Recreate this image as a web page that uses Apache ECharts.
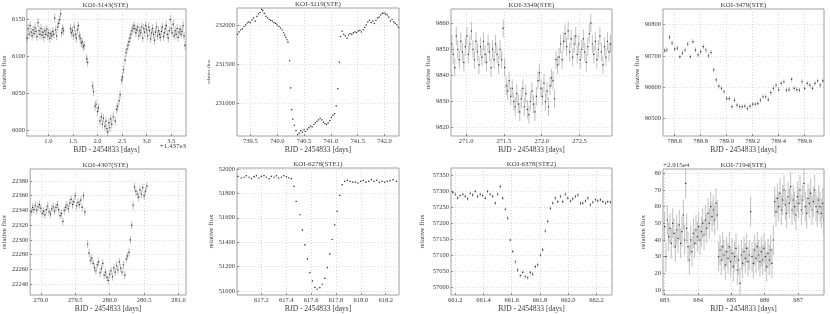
<!DOCTYPE html>
<html><head><meta charset="utf-8">
<script src="https://cdn.jsdelivr.net/npm/echarts@6/dist/echarts.min.js"></script>
<style>html,body{margin:0;padding:0;background:#fff}#c{width:830px;height:314px}</style>
</head><body><div id="c"></div>
<script>
// ---------- DATA ----------
const titles = ['KOI-3143(STE)','KOI-3219(STE)','KOI-3349(STE)','KOI-3479(STE)','KOI-4307(STE)','KOI-6278(STE1)','KOI-6378(STE2)','KOI-7194(STE)'];
const xAxisName = 'BJD - 2454833 [days]';
const yAxisName = 'relative flux';
const xOffsetText1 = '+1.437e3';
const yOffsetText8 = '+2.915e4';

const koi3143 = [[0.57,6125],[0.59,6138],[0.61,6130],[0.63,6142],[0.65,6133],[0.67,6128],[0.69,6136],[0.71,6131],[0.73,6139],[0.75,6134],[0.77,6127],[0.79,6146],[0.81,6135],[0.83,6130],[0.85,6138],[0.87,6129],[0.89,6133],[0.91,6126],[0.93,6135],[0.95,6130],[0.97,6137],[0.99,6128],[1.01,6132],[1.03,6125],[1.05,6131],[1.07,6128],[1.09,6134],[1.11,6130],[1.13,6152],[1.15,6136],[1.17,6128],[1.19,6140],[1.21,6145],[1.23,6150],[1.25,6158],[1.27,6132],[1.29,6138],[1.31,6135],[1.45,6138],[1.47,6132],[1.49,6135],[1.51,6128],[1.53,6140],[1.55,6130],[1.57,6125],[1.59,6136],[1.61,6142],[1.63,6128],[1.65,6125],[1.67,6118],[1.69,6120],[1.71,6113],[1.73,6115],[1.78,6097],[1.80,6092],[1.90,6060],[1.92,6052],[1.95,6032],[1.97,6035],[2.00,6025],[2.02,6030],[2.05,6012],[2.08,6018],[2.10,6008],[2.12,6016],[2.15,6005],[2.17,6012],[2.19,6002],[2.21,5997],[2.23,6010],[2.25,6003],[2.27,6015],[2.29,6008],[2.32,6018],[2.36,6012],[2.39,6028],[2.41,6032],[2.44,6040],[2.46,6048],[2.49,6068],[2.51,6072],[2.53,6082],[2.56,6095],[2.58,6105],[2.60,6110],[2.62,6115],[2.64,6120],[2.66,6125],[2.68,6130],[2.70,6135],[2.72,6138],[2.74,6142],[2.76,6138],[2.78,6132],[2.80,6136],[2.82,6140],[2.84,6128],[2.86,6135],[2.88,6132],[2.90,6140],[2.92,6125],[2.94,6138],[2.96,6133],[2.98,6142],[3.00,6136],[3.02,6128],[3.04,6140],[3.06,6135],[3.08,6124],[3.10,6132],[3.12,6138],[3.14,6130],[3.16,6122],[3.18,6133],[3.20,6140],[3.22,6128],[3.24,6135],[3.26,6130],[3.28,6126],[3.30,6134],[3.32,6140],[3.34,6127],[3.36,6132],[3.38,6138],[3.40,6142],[3.42,6130],[3.44,6125],[3.46,6135],[3.48,6150],[3.50,6138],[3.52,6132],[3.54,6144],[3.56,6128],[3.58,6135],[3.60,6130],[3.62,6138],[3.64,6126],[3.66,6133],[3.68,6137],[3.70,6130],[3.72,6134],[3.74,6142],[3.76,6128],[3.78,6115]];

const koi3219 = [[739.26,231890],[739.29,231920],[739.32,231945],[739.35,231960],[739.38,231990],[739.41,232010],[739.44,232035],[739.47,232050],[739.50,232040],[739.53,232075],[739.56,232100],[739.59,232060],[739.62,232120],[739.65,232150],[739.68,232170],[739.71,232210],[739.73,232195],[739.76,232160],[739.79,232120],[739.82,232100],[739.85,232080],[739.88,232070],[739.91,232060],[739.94,232040],[739.97,232030],[740.00,232010],[740.03,231990],[740.06,231970],[740.09,231945],[740.12,231910],[740.14,231880],[740.16,231850],[740.18,231820],[740.20,231790],[740.23,231550],[740.25,231200],[740.27,230920],[740.29,230800],[740.32,230720],[740.35,230650],[740.38,230600],[740.41,230620],[740.44,230650],[740.47,230630],[740.50,230660],[740.53,230640],[740.56,230670],[740.59,230690],[740.62,230710],[740.65,230700],[740.68,230730],[740.71,230750],[740.74,230770],[740.77,230790],[740.80,230810],[740.83,230790],[740.86,230760],[740.89,230740],[740.92,230730],[740.95,230750],[740.98,230780],[741.01,230820],[741.04,230850],[741.07,230870],[741.10,230970],[741.13,231190],[741.16,231530],[741.18,231860],[741.21,231930],[741.24,231890],[741.27,231870],[741.30,231840],[741.33,231880],[741.36,231900],[741.39,231890],[741.42,231910],[741.45,231920],[741.48,231910],[741.51,231930],[741.54,231940],[741.57,231920],[741.60,231950],[741.63,231980],[741.66,232010],[741.69,232050],[741.72,232070],[741.75,232040],[741.78,232060],[741.81,232030],[741.84,232070],[741.87,232100],[741.90,232110],[741.93,232140],[741.96,232160],[741.99,232165],[742.02,232150],[742.05,232140],[742.08,232110],[742.11,232060],[742.14,232080],[742.17,232050],[742.20,232030],[742.23,232010],[742.26,231980]];

const koi3349 = [[270.81,9852],[270.83,9848],[270.85,9843],[270.87,9855],[270.89,9850],[270.91,9846],[270.93,9853],[270.95,9849],[270.97,9845],[270.99,9851],[271.01,9855],[271.03,9848],[271.05,9852],[271.07,9857],[271.09,9850],[271.11,9846],[271.13,9853],[271.15,9849],[271.17,9844],[271.19,9851],[271.21,9847],[271.23,9853],[271.25,9848],[271.27,9845],[271.29,9852],[271.31,9849],[271.33,9843],[271.35,9850],[271.37,9846],[271.39,9852],[271.41,9848],[271.43,9844],[271.45,9850],[271.47,9846],[271.49,9858],[271.51,9843],[271.53,9836],[271.55,9834],[271.57,9838],[271.59,9832],[271.61,9835],[271.63,9830],[271.65,9828],[271.67,9833],[271.69,9829],[271.71,9826],[271.73,9831],[271.75,9835],[271.77,9828],[271.79,9833],[271.81,9827],[271.83,9825],[271.85,9830],[271.87,9834],[271.89,9829],[271.91,9826],[271.93,9832],[271.95,9838],[271.97,9841],[271.99,9835],[272.01,9832],[272.03,9837],[272.05,9830],[272.07,9834],[272.09,9828],[272.11,9836],[272.13,9839],[272.15,9838],[272.17,9831],[272.19,9846],[272.21,9844],[272.23,9847],[272.25,9852],[272.27,9846],[272.29,9853],[272.31,9856],[272.33,9851],[272.35,9857],[272.37,9849],[272.39,9854],[272.41,9847],[272.43,9852],[272.45,9855],[272.47,9848],[272.49,9852],[272.51,9846],[272.53,9850],[272.55,9854],[272.57,9849],[272.59,9845],[272.61,9851],[272.63,9856],[272.65,9860],[272.67,9852],[272.69,9848],[272.71,9853],[272.73,9846],[272.75,9850],[272.77,9855],[272.79,9849],[272.81,9844],[272.83,9851],[272.85,9847],[272.87,9853],[272.89,9849],[272.91,9852]];

const koi3479 = [[788.523,90717],[788.54,90719],[788.56,90760],[788.58,90741],[788.60,90722],[788.62,90725],[788.64,90698],[788.66,90709],[788.68,90719],[788.70,90738],[788.72,90698],[788.74,90746],[788.76,90719],[788.78,90703],[788.80,90714],[788.82,90730],[788.84,90719],[788.86,90700],[788.88,90711],[788.90,90655],[788.92,90623],[788.94,90603],[788.96,90596],[788.98,90585],[789.00,90563],[789.02,90563],[789.04,90537],[789.06,90558],[789.08,90542],[789.10,90537],[789.12,90537],[789.14,90539],[789.16,90531],[789.18,90539],[789.20,90545],[789.22,90545],[789.24,90547],[789.26,90558],[789.28,90569],[789.30,90569],[789.32,90560],[789.34,90582],[789.36,90596],[789.38,90606],[789.40,90592],[789.42,90612],[789.44,90617],[789.46,90590],[789.48,90592],[789.50,90625],[789.52,90596],[789.54,90592],[789.56,90590],[789.58,90617],[789.60,90596],[789.62,90612],[789.64,90606],[789.66,90596],[789.68,90612],[789.70,90620],[789.72,90606],[789.74,90620]];

const koi4307 = [[278.86,22338],[278.88,22344],[278.90,22341],[278.92,22347],[278.94,22340],[278.96,22345],[278.98,22348],[279.00,22343],[279.02,22336],[279.04,22339],[279.06,22334],[279.08,22341],[279.10,22346],[279.12,22338],[279.14,22335],[279.16,22342],[279.18,22345],[279.20,22339],[279.22,22344],[279.24,22348],[279.26,22341],[279.28,22333],[279.30,22336],[279.32,22325],[279.34,22340],[279.36,22344],[279.38,22347],[279.40,22342],[279.42,22350],[279.44,22355],[279.46,22348],[279.48,22352],[279.50,22360],[279.52,22346],[279.54,22351],[279.56,22348],[279.58,22354],[279.60,22344],[279.62,22360],[279.64,22338],[279.68,22294],[279.70,22282],[279.72,22272],[279.74,22275],[279.76,22268],[279.78,22262],[279.80,22258],[279.82,22266],[279.84,22270],[279.86,22255],[279.88,22261],[279.90,22268],[279.92,22252],[279.94,22256],[279.96,22249],[279.98,22245],[280.00,22253],[280.02,22258],[280.04,22250],[280.06,22262],[280.08,22256],[280.10,22265],[280.12,22259],[280.14,22270],[280.16,22262],[280.18,22256],[280.20,22266],[280.22,22252],[280.24,22274],[280.26,22278],[280.28,22283],[280.30,22300],[280.32,22320],[280.34,22347],[280.36,22372],[280.38,22366],[280.40,22362],[280.42,22358],[280.44,22368],[280.46,22362],[280.48,22371],[280.50,22360],[280.52,22366],[280.54,22373]];

const koi6278 = [[617.012,51940],[617.039,51926],[617.061,51932],[617.079,51945],[617.101,51932],[617.12,51921],[617.141,51937],[617.16,51945],[617.181,51926],[617.2,51940],[617.221,51945],[617.24,51932],[617.262,51921],[617.28,51940],[617.302,51932],[617.321,51945],[617.339,51926],[617.361,51932],[617.38,51945],[617.401,51937],[617.42,51926],[617.441,51921],[617.463,51858],[617.48,51734],[617.51,51625],[617.53,51501],[617.55,51378],[617.57,51263],[617.59,51151],[617.61,51082],[617.63,51030],[617.65,51014],[617.67,51027],[617.69,51055],[617.71,51104],[617.73,51192],[617.75,51304],[617.77,51422],[617.79,51542],[617.81,51652],[617.83,51784],[617.85,51871],[617.87,51899],[617.892,51907],[617.913,51899],[617.935,51893],[617.956,51893],[617.977,51885],[617.999,51899],[618.02,51907],[618.042,51893],[618.063,51899],[618.085,51912],[618.106,51899],[618.128,51907],[618.149,51890],[618.171,51899],[618.192,51893],[618.213,51899],[618.235,51904],[618.259,51912],[618.286,51899]];

const koi6378 = [[661.183,57298],[661.2,57292],[661.217,57280],[661.235,57288],[661.254,57292],[661.271,57285],[661.287,57278],[661.306,57295],[661.323,57290],[661.342,57301],[661.358,57285],[661.377,57292],[661.394,57288],[661.413,57280],[661.429,57301],[661.448,57292],[661.465,57285],[661.484,57264],[661.5,57292],[661.519,57316],[661.536,57280],[661.555,57245],[661.571,57217],[661.59,57149],[661.607,57113],[661.626,57081],[661.642,57055],[661.661,57038],[661.678,57048],[661.696,57034],[661.713,57031],[661.732,57048],[661.748,57042],[661.767,57066],[661.784,57071],[661.803,57102],[661.819,57118],[661.838,57177],[661.855,57207],[661.874,57248],[661.89,57264],[661.909,57280],[661.926,57269],[661.945,57285],[661.961,57269],[661.98,57292],[661.997,57280],[662.016,57271],[662.032,57278],[662.051,57285],[662.068,57290],[662.087,57264],[662.103,57264],[662.122,57271],[662.139,57280],[662.157,57259],[662.174,57267],[662.193,57275],[662.209,57271],[662.228,57275],[662.245,57269],[662.264,57264],[662.28,57269],[662.299,57267]];

const koi7194 = [[683.00,48],[683.04,30],[683.08,52],[683.12,42],[683.16,47],[683.20,38],[683.24,50],[683.28,44],[683.32,36],[683.36,46],[683.40,41],[683.44,49],[683.48,38],[683.52,45],[683.56,55],[683.60,40],[683.63,74],[683.66,47],[683.70,36],[683.74,28],[683.78,40],[683.82,33],[683.86,44],[683.90,38],[683.94,46],[683.98,42],[684.02,48],[684.06,40],[684.10,45],[684.14,50],[684.18,43],[684.22,52],[684.26,47],[684.30,56],[684.34,50],[684.38,60],[684.42,54],[684.46,58],[684.50,52],[684.54,62],[684.58,55],[684.62,30],[684.66,34],[684.70,28],[684.74,36],[684.78,31],[684.82,25],[684.86,33],[684.90,29],[684.94,36],[684.98,27],[685.02,32],[685.06,24],[685.10,30],[685.14,35],[685.18,22],[685.22,28],[685.26,14],[685.30,31],[685.34,26],[685.38,33],[685.42,29],[685.46,35],[685.50,27],[685.54,31],[685.58,57],[685.62,30],[685.66,26],[685.70,34],[685.74,29],[685.78,36],[685.82,31],[685.86,27],[685.90,33],[685.94,28],[685.98,35],[686.02,30],[686.06,24],[686.10,32],[686.14,28],[686.18,34],[686.22,26],[686.26,40],[686.30,63],[686.34,57],[686.38,65],[686.42,60],[686.46,68],[686.50,58],[686.54,64],[686.58,70],[686.62,61],[686.66,56],[686.70,66],[686.74,62],[686.78,72],[686.82,58],[686.86,64],[686.90,60],[686.94,55],[686.98,66],[687.02,62],[687.06,70],[687.10,58],[687.14,64],[687.18,74],[687.22,60],[687.26,56],[687.30,65],[687.34,62],[687.38,68],[687.42,58],[687.46,63],[687.50,70],[687.54,60],[687.58,57],[687.62,64],[687.66,60],[687.70,56],[687.74,62],[687.78,52]];

const seriesData = [koi3143, koi3219, koi3349, koi3479, koi4307, koi6278, koi6378, koi7194];
const errors = [6, 6, 3.5, 8, 5.5, 5, 6, 9];

const xTicks = [
  [1.0,1.5,2.0,2.5,3.0,3.5],
  [739.5,740.0,740.5,741.0,741.5,742.0],
  [271.0,271.5,272.0,272.5],
  [788.6,788.8,789.0,789.2,789.4,789.6],
  [279.0,279.5,280.0,280.5,281.0],
  [617.2,617.4,617.6,617.8,618.0,618.2],
  [661.2,661.4,661.6,661.8,662.0,662.2],
  [683,684,685,686,687]
];
const yTicks = [
  [6000,6050,6100,6150],
  [231000,231500,232000],
  [9820,9830,9840,9850,9860],
  [90500,90600,90700,90800],
  [22240,22260,22280,22300,22320,22340,22360,22380],
  [51000,51200,51400,51600,51800,52000],
  [57000,57050,57100,57150,57200,57250,57300,57350],
  [10,20,30,40,50,60,70,80]
];
const xRanges = [[0.564,3.80],[739.25,742.27],[270.80,272.93],[788.51,789.749],[278.845,281.108],[617.004,618.307],[661.17,662.31],[682.95,687.78]];
const yRanges = [[5991.8,6164.5],[230582,232228],[9816.8,9865.4],[90443,90850.5],[22225,22396.3],[50967,52008],[56977,57374],[7,82.6]];
const xDecimals = [1,1,1,1,1,1,1,0];

// ---------- LAYOUT ----------
const layout = [
  {l:25, t:9, w:161, h:127, yGap:18, yFs:7},
  {l:237, t:8, w:162, h:128, yGap:25, yFs:5},
  {l:451, t:9, w:161, h:127, yGap:18, yFs:7},
  {l:663, t:9, w:161, h:127, yGap:22, yFs:7},
  {l:25, t:169, w:161, h:126, yGap:18, yFs:7},
  {l:237, t:168, w:162, h:127, yGap:20, yFs:7},
  {l:451, t:168, w:161, h:127, yGap:25, yFs:7},
  {l:663, t:169, w:161, h:126, yGap:16, yFs:7}
];
const FONT = 'Liberation Serif';
const TXT = '#3a3a3a';

const grids = [], xAxes = [], yAxes = [], series = [], graphics = [];
layout.forEach((L, i) => {
  grids.push({left:L.l, top:L.t, width:L.w, height:L.h, show:true, borderColor:'#a0a0a0', borderWidth:1, backgroundColor:'#fff', containLabel:false});
  xAxes.push({
    type:'value', gridIndex:i, min:xRanges[i][0], max:xRanges[i][1],
    name:xAxisName, nameLocation:'middle', nameGap:10,
    nameTextStyle:{fontFamily:FONT, fontSize:7.5, color:TXT},
    axisLine:{show:false},
    axisTick:{show:true, inside:true, length:2, customValues:xTicks[i], lineStyle:{color:'#888'}},
    axisLabel:{customValues:xTicks[i], margin:2, fontFamily:FONT, fontSize:6.5, color:TXT,
      formatter: v => Number(v).toFixed(xDecimals[i])},
    splitLine:{show:true, lineStyle:{color:'#dadada', type:[1,2], width:1}}
  });
  yAxes.push({
    type:'value', gridIndex:i, min:yRanges[i][0], max:yRanges[i][1],
    name:yAxisName, nameLocation:'middle', nameGap:L.yGap,
    nameTextStyle:{fontFamily:FONT, fontSize:L.yFs, color:TXT},
    axisLine:{show:false},
    axisTick:{show:true, inside:true, length:2, customValues:yTicks[i], lineStyle:{color:'#888'}},
    axisLabel:{customValues:yTicks[i], margin:2, fontFamily:FONT, fontSize:6.5, color:TXT,
      formatter: v => String(Math.round(v))},
    splitLine:{show:true, lineStyle:{color:'#dadada', type:[1,2], width:1}}
  });
  const err = errors[i];
  series.push({
    type:'custom', xAxisIndex:i, yAxisIndex:i, clip:true,
    data: seriesData[i].map(p => [p[0], p[1], err]),
    renderItem: (params, api) => {
      const x = api.value(0), y = api.value(1), e = api.value(2);
      const a = api.coord([x, y + e]), b = api.coord([x, y - e]), c = api.coord([x, y]);
      return {type:'group', children:[
        {type:'line', shape:{x1:a[0], y1:a[1], x2:b[0], y2:b[1]}, style:{stroke:'rgba(130,130,130,0.5)', lineWidth:1}},
        {type:'rect', shape:{x:c[0]-0.6, y:c[1]-0.6, width:1.2, height:1.2}, style:{fill:'#2a2a2a'}}
      ]};
    }
  });
  graphics.push({type:'text', x:L.l + L.w/2, y:L.t - 0.5,
    style:{text:titles[i], fontFamily:FONT, fontSize:7, fill:TXT, align:'center', verticalAlign:'bottom'}});
});
graphics.push({type:'text', x:layout[0].l + layout[0].w, y:layout[0].t + layout[0].h + 10.5,
  style:{text:xOffsetText1, fontFamily:FONT, fontSize:7, fill:TXT, align:'right', verticalAlign:'middle'}});
graphics.push({type:'text', x:layout[7].l, y:layout[7].t - 0.5,
  style:{text:yOffsetText8, fontFamily:FONT, fontSize:7, fill:TXT, align:'left', verticalAlign:'bottom'}});

const chart = echarts.init(document.getElementById('c'), null, {renderer:'canvas'});
chart.setOption({
  backgroundColor:'#fff',
  animation:false,
  grid:grids, xAxis:xAxes, yAxis:yAxes, series:series, graphic:graphics
});
</script></body></html>
